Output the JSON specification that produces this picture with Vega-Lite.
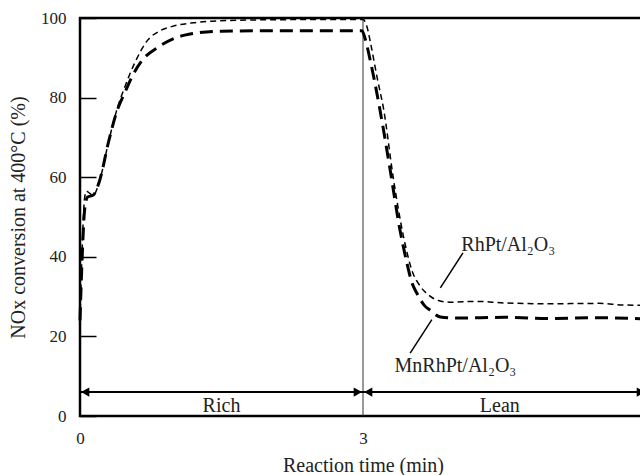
{
  "$schema": "https://vega.github.io/schema/vega-lite/v6.json",
  "autosize": {"type": "none"},
  "width": 566,
  "height": 398,
  "padding": {"left": 80, "top": 18, "right": 0, "bottom": 59},
  "background": "white",
  "config": {
    "font": "Liberation Serif",
    "view": {"stroke": "black", "strokeWidth": 2.5},
    "axis": {"labelFont": "Liberation Serif", "titleFont": "Liberation Serif", "labelFontSize": 17, "titleFontSize": 20, "labelColor": "#222", "titleColor": "#222", "titleFontWeight": "normal", "grid": false, "domain": false}
  },
  "datasets": {
    "curves": [
      {"t": 0, "v": 24, "s": "RhPt/Al2O3"},
      {"t": 0.02, "v": 40, "s": "RhPt/Al2O3"},
      {"t": 0.05, "v": 55, "s": "RhPt/Al2O3"},
      {"t": 0.07, "v": 56.5, "s": "RhPt/Al2O3"},
      {"t": 0.1, "v": 56, "s": "RhPt/Al2O3"},
      {"t": 0.14, "v": 55.5, "s": "RhPt/Al2O3"},
      {"t": 0.21, "v": 59.3, "s": "RhPt/Al2O3"},
      {"t": 0.3, "v": 68.6, "s": "RhPt/Al2O3"},
      {"t": 0.39, "v": 76.9, "s": "RhPt/Al2O3"},
      {"t": 0.48, "v": 83, "s": "RhPt/Al2O3"},
      {"t": 0.58, "v": 88.7, "s": "RhPt/Al2O3"},
      {"t": 0.72, "v": 94.5, "s": "RhPt/Al2O3"},
      {"t": 0.85, "v": 96.8, "s": "RhPt/Al2O3"},
      {"t": 0.98, "v": 97.9, "s": "RhPt/Al2O3"},
      {"t": 1.2, "v": 98.8, "s": "RhPt/Al2O3"},
      {"t": 1.4, "v": 99.2, "s": "RhPt/Al2O3"},
      {"t": 1.8, "v": 99.5, "s": "RhPt/Al2O3"},
      {"t": 2.4, "v": 99.6, "s": "RhPt/Al2O3"},
      {"t": 3.0, "v": 99.6, "s": "RhPt/Al2O3"},
      {"t": 3.04, "v": 98, "s": "RhPt/Al2O3"},
      {"t": 3.08, "v": 93.7, "s": "RhPt/Al2O3"},
      {"t": 3.15, "v": 85, "s": "RhPt/Al2O3"},
      {"t": 3.22, "v": 76.9, "s": "RhPt/Al2O3"},
      {"t": 3.32, "v": 60, "s": "RhPt/Al2O3"},
      {"t": 3.43, "v": 45, "s": "RhPt/Al2O3"},
      {"t": 3.52, "v": 36.5, "s": "RhPt/Al2O3"},
      {"t": 3.61, "v": 32.5, "s": "RhPt/Al2O3"},
      {"t": 3.7, "v": 30.3, "s": "RhPt/Al2O3"},
      {"t": 3.8, "v": 29, "s": "RhPt/Al2O3"},
      {"t": 3.92, "v": 28.6, "s": "RhPt/Al2O3"},
      {"t": 4.2, "v": 28.8, "s": "RhPt/Al2O3"},
      {"t": 4.5, "v": 28.4, "s": "RhPt/Al2O3"},
      {"t": 5.0, "v": 28.2, "s": "RhPt/Al2O3"},
      {"t": 5.5, "v": 28.3, "s": "RhPt/Al2O3"},
      {"t": 5.75, "v": 27.9, "s": "RhPt/Al2O3"},
      {"t": 6.0, "v": 27.8, "s": "RhPt/Al2O3"},
      {"t": 0, "v": 24, "s": "MnRhPt/Al2O3"},
      {"t": 0.02, "v": 38, "s": "MnRhPt/Al2O3"},
      {"t": 0.05, "v": 52, "s": "MnRhPt/Al2O3"},
      {"t": 0.08, "v": 55, "s": "MnRhPt/Al2O3"},
      {"t": 0.14, "v": 55.5, "s": "MnRhPt/Al2O3"},
      {"t": 0.21, "v": 59.3, "s": "MnRhPt/Al2O3"},
      {"t": 0.3, "v": 68.6, "s": "MnRhPt/Al2O3"},
      {"t": 0.39, "v": 76.5, "s": "MnRhPt/Al2O3"},
      {"t": 0.48, "v": 81.5, "s": "MnRhPt/Al2O3"},
      {"t": 0.55, "v": 85.2, "s": "MnRhPt/Al2O3"},
      {"t": 0.66, "v": 89.4, "s": "MnRhPt/Al2O3"},
      {"t": 0.83, "v": 92.7, "s": "MnRhPt/Al2O3"},
      {"t": 1.0, "v": 94.9, "s": "MnRhPt/Al2O3"},
      {"t": 1.11, "v": 95.7, "s": "MnRhPt/Al2O3"},
      {"t": 1.5, "v": 96.7, "s": "MnRhPt/Al2O3"},
      {"t": 2.0, "v": 96.8, "s": "MnRhPt/Al2O3"},
      {"t": 2.5, "v": 96.8, "s": "MnRhPt/Al2O3"},
      {"t": 2.99, "v": 96.8, "s": "MnRhPt/Al2O3"},
      {"t": 3.02, "v": 95, "s": "MnRhPt/Al2O3"},
      {"t": 3.08, "v": 89, "s": "MnRhPt/Al2O3"},
      {"t": 3.18, "v": 76.9, "s": "MnRhPt/Al2O3"},
      {"t": 3.28, "v": 63, "s": "MnRhPt/Al2O3"},
      {"t": 3.39, "v": 47, "s": "MnRhPt/Al2O3"},
      {"t": 3.46, "v": 39, "s": "MnRhPt/Al2O3"},
      {"t": 3.52, "v": 33.4, "s": "MnRhPt/Al2O3"},
      {"t": 3.57, "v": 30.9, "s": "MnRhPt/Al2O3"},
      {"t": 3.65, "v": 27.8, "s": "MnRhPt/Al2O3"},
      {"t": 3.71, "v": 26.6, "s": "MnRhPt/Al2O3"},
      {"t": 3.82, "v": 24.9, "s": "MnRhPt/Al2O3"},
      {"t": 4.0, "v": 24.6, "s": "MnRhPt/Al2O3"},
      {"t": 4.5, "v": 24.8, "s": "MnRhPt/Al2O3"},
      {"t": 5.0, "v": 24.5, "s": "MnRhPt/Al2O3"},
      {"t": 5.5, "v": 24.7, "s": "MnRhPt/Al2O3"},
      {"t": 6.0, "v": 24.4, "s": "MnRhPt/Al2O3"}
    ],
    "leaders": [
      {"t": 3.82, "v": 32.2, "t2": 4.06, "v2": 41},
      {"t": 3.73, "v": 24.2, "t2": 3.5, "v2": 15.8}
    ],
    "labels": [
      {"t": 4.54, "v": 43, "label": "RhPt/Al₂O₃"},
      {"t": 3.98, "v": 12.6, "label": "MnRhPt/Al₂O₃"},
      {"t": 1.5, "v": 2.5, "label": "Rich"},
      {"t": 4.45, "v": 2.5, "label": "Lean"}
    ],
    "spans": [
      {"t": 0, "t2": 3, "v": 6},
      {"t": 3, "t2": 6, "v": 6}
    ],
    "heads": [
      {"t": 0.055, "v": 6, "dir": "left"},
      {"t": 2.945, "v": 6, "dir": "right"},
      {"t": 3.055, "v": 6, "dir": "left"},
      {"t": 5.945, "v": 6, "dir": "right"}
    ],
    "divider": [
      {"t": 3, "v": 0, "v2": 100}
    ]
  },
  "layer": [
    {
      "data": {"name": "divider"},
      "mark": {"type": "rule", "color": "#333", "strokeWidth": 1},
      "encoding": {
        "x": {"field": "t", "type": "quantitative", "scale": {"domain": [0, 6], "nice": false}, "axis": {"values": [0, 3, 6], "format": "d", "ticks": false, "labelPadding": 14, "title": "Reaction time (min)", "titlePadding": 9, "labelFlush": false}},
        "y": {"field": "v", "type": "quantitative", "scale": {"domain": [0, 100], "nice": false}, "axis": {"values": [0, 20, 40, 60, 80, 100], "format": "d", "tickSize": -16, "tickColor": "black", "tickWidth": 1.5, "labelPadding": 30, "title": "NOx conversion at 400°C (%)", "titlePadding": 12}},
        "y2": {"field": "v2"}
      }
    },
    {
      "data": {"name": "curves"},
      "transform": [{"filter": "datum.s === 'RhPt/Al2O3'"}],
      "mark": {"type": "line", "color": "black", "strokeWidth": 1.5, "strokeDash": [6, 4], "interpolate": "monotone"},
      "encoding": {
        "x": {"field": "t", "type": "quantitative"},
        "y": {"field": "v", "type": "quantitative"}
      }
    },
    {
      "data": {"name": "curves"},
      "transform": [{"filter": "datum.s === 'MnRhPt/Al2O3'"}],
      "mark": {"type": "line", "color": "black", "strokeWidth": 3, "strokeDash": [13, 7], "interpolate": "monotone"},
      "encoding": {
        "x": {"field": "t", "type": "quantitative"},
        "y": {"field": "v", "type": "quantitative"}
      }
    },
    {
      "data": {"name": "leaders"},
      "mark": {"type": "rule", "color": "black", "strokeWidth": 1.5},
      "encoding": {
        "x": {"field": "t", "type": "quantitative"},
        "y": {"field": "v", "type": "quantitative"},
        "x2": {"field": "t2"},
        "y2": {"field": "v2"}
      }
    },
    {
      "data": {"name": "spans"},
      "mark": {"type": "rule", "color": "black", "strokeWidth": 2},
      "encoding": {
        "x": {"field": "t", "type": "quantitative"},
        "x2": {"field": "t2"},
        "y": {"field": "v", "type": "quantitative"}
      }
    },
    {
      "data": {"name": "heads"},
      "mark": {"type": "point", "filled": true, "color": "black", "opacity": 1, "size": 90},
      "encoding": {
        "x": {"field": "t", "type": "quantitative"},
        "y": {"field": "v", "type": "quantitative"},
        "shape": {"field": "dir", "type": "nominal", "scale": {"domain": ["left", "right"], "range": ["triangle-left", "triangle-right"]}, "legend": null}
      }
    },
    {
      "data": {"name": "labels"},
      "mark": {"type": "text", "font": "Liberation Serif", "fontSize": 20, "color": "#222", "align": "center", "baseline": "middle"},
      "encoding": {
        "x": {"field": "t", "type": "quantitative"},
        "y": {"field": "v", "type": "quantitative"},
        "text": {"field": "label"}
      }
    }
  ]
}
